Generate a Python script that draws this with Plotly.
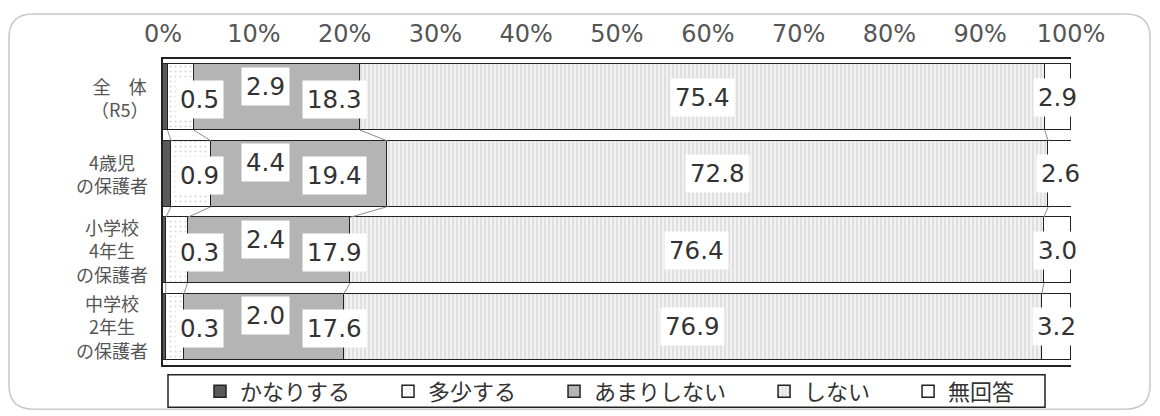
import plotly.graph_objects as go

# ---------------- data ----------------
categories = ["全　体<br>（R5）", "4歳児<br>の保護者", "小学校<br>4年生<br>の保護者", "中学校<br>2年生<br>の保護者"]
series_names = ["かなりする", "多少する", "あまりしない", "しない", "無回答"]
kanari_suru = [0.5, 0.9, 0.3, 0.3]
tashou_suru = [2.9, 4.4, 2.4, 2.0]
amari_shinai = [18.3, 19.4, 17.9, 17.6]
shinai = [75.4, 72.8, 76.4, 76.9]
mukaitou = [2.9, 2.6, 3.0, 3.2]
tick_values = [0, 10, 20, 30, 40, 50, 60, 70, 80, 90, 100]
tick_labels = ["0%", "10%", "20%", "30%", "40%", "50%", "60%", "70%", "80%", "90%", "100%"]

series_values = [kanari_suru, tashou_suru, amari_shinai, shinai, mukaitou]

# ---------------- style ----------------
W, H = 1160, 416
OFF = 8  # page body margin: screen px = figure px + OFF
ML, MT = 163 - OFF, 55 - OFF
MR, MB = W - (1071 - OFF), H - (367 - OFF)
PW, PH = W - ML - MR, H - MT - MB
BAR_W = 0.86
NUM_FONT = "DejaVu Sans, Noto Sans CJK JP"
JP_FONT = "Noto Sans CJK JP, Noto Sans, sans-serif"

styles = [
    dict(color="#5a5a5a"),
    dict(color="#ffffff", pattern=dict(shape=".", fgcolor="#b0b0b0", bgcolor="#ffffff", size=5, solidity=0.15)),
    dict(color="#b4b4b4"),
    dict(color="#eeeeee", pattern=dict(shape="|", fgcolor="#bcbcbc", bgcolor="#f2f2f2", size=4, solidity=0.35)),
    dict(color="#ffffff"),
]
LABEL_X_SMALL = [4.0, 11.3, 18.9]
LABEL_YSHIFT = [-2, 11, -2, 0, 0]
LEGEND_PAD = "　\u2002"

rows = list(range(len(categories)))

fig = go.Figure()
for name, vals, st in zip(series_names, series_values, styles):
    marker = dict(color=st["color"], line=dict(color="#222222", width=1.5))
    if "pattern" in st:
        marker["pattern"] = st["pattern"]
    fig.add_trace(go.Bar(
        name=name + LEGEND_PAD, x=vals, y=rows, orientation="h", width=BAR_W,
        marker=marker, hoverinfo="skip",
    ))

cum = []
for i in rows:
    c, acc = [], 0.0
    for s in series_values:
        acc += s[i]
        c.append(acc)
    cum.append(c)

cx, cy = [], []
for j in range(len(series_values) - 1):
    for i in rows[:-1]:
        cx += [cum[i][j], cum[i + 1][j], None]
        cy += [i + BAR_W / 2, i + 1 - BAR_W / 2, None]
fig.add_trace(go.Scatter(x=cx, y=cy, mode="lines", line=dict(color="#8c8c8c", width=1),
                         showlegend=False, hoverinfo="skip"))

annotations = []
for i in rows:
    for j, s in enumerate(series_values):
        xpos = LABEL_X_SMALL[j] if j < 3 else cum[i][j] - s[i] / 2
        annotations.append(dict(
            x=xpos, y=i, xref="x", yref="y", text=f"{s[i]:.1f}", showarrow=False,
            font=dict(family=NUM_FONT, size=24.5, color="#333333"),
            bgcolor="#ffffff", borderpad=4, yshift=LABEL_YSHIFT[j],
        ))
    annotations.append(dict(
        x=0, y=i, xref="paper", yref="y", text=categories[i], showarrow=False,
        xanchor="right", xshift=-13, align="center",
        font=dict(family=JP_FONT, size=18, color="#555555"),
    ))


def px_x(sx):
    return (sx - OFF - ML) / PW


def px_y(sy):
    return (H - MB - (sy - OFF)) / PH


def rounded_rect(x0, y0, x1, y1, r):
    pts = [
        ("M", (x0 + r, y0)), ("L", (x1 - r, y0)), ("Q", (x1, y0), (x1, y0 + r)),
        ("L", (x1, y1 - r)), ("Q", (x1, y1), (x1 - r, y1)), ("L", (x0 + r, y1)),
        ("Q", (x0, y1), (x0, y1 - r)), ("L", (x0, y0 + r)), ("Q", (x0, y0), (x0 + r, y0)),
    ]
    out = []
    for p in pts:
        coords = " ".join(f"{px_x(a):.5f},{px_y(b):.5f}" for a, b in p[1:])
        out.append(f"{p[0]} {coords}")
    return " ".join(out) + " Z"


shapes = [
    dict(type="path", xref="paper", yref="paper", path=rounded_rect(9, 9, 1150, 412, 24),
         line=dict(color="#c8c8c8", width=1.5), layer="below"),
    dict(type="rect", xref="paper", yref="paper", x0=px_x(168), x1=px_x(1045),
         y0=px_y(410), y1=px_y(377), line=dict(color="#222222", width=1.5)),
]

fig.update_layout(
    width=W, height=H, margin=dict(l=ML, r=MR, t=MT, b=MB),
    paper_bgcolor="#ffffff", plot_bgcolor="#ffffff",
    barmode="stack", bargap=0,
    showlegend=True,
    legend=dict(orientation="h", traceorder="normal", x=px_x(200), xanchor="left",
                y=px_y(394), yanchor="middle", font=dict(family=JP_FONT, size=22, color="#333333"),
                bgcolor="rgba(0,0,0,0)", borderwidth=0),
    xaxis=dict(side="top", range=[0, 100], tickvals=tick_values, ticktext=tick_labels,
               tickfont=dict(family=NUM_FONT, size=24, color="#555555"),
               showgrid=False, zeroline=False, showline=True, mirror=True,
               linecolor="#222222", linewidth=1.5, ticks="", ticklabelstandoff=6),
    yaxis=dict(range=[len(rows) - 0.5, -0.5], showticklabels=False, showgrid=False,
               zeroline=False, showline=True, mirror=False, linecolor="#222222", linewidth=1.5),
    annotations=annotations, shapes=shapes,
)

fig.write_html("out.html")
